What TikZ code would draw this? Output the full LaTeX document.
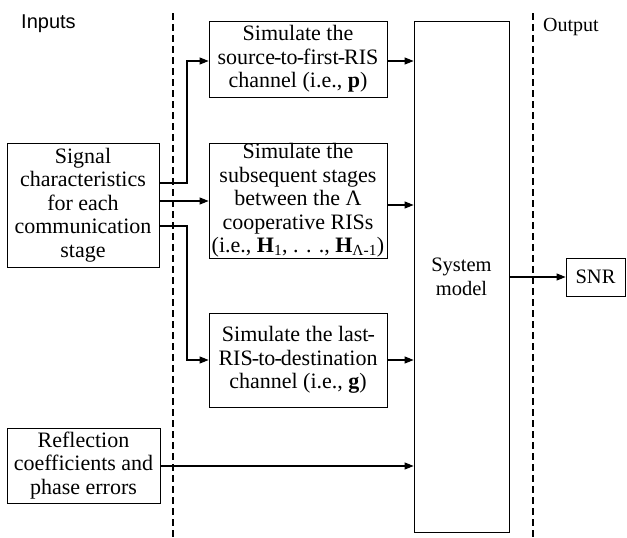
\documentclass[tikz,border=0pt]{standalone}
\usepackage{fontspec}
\setmainfont{Liberation Serif}
\newfontfamily\labelsans{Liberation Sans}
\usetikzlibrary{arrows.meta}

% tight hyphen used in the compound channel names
\newcommand{\hy}{\kern-0.9pt-\kern-0.9pt}

\begin{document}
\begin{tikzpicture}[x=1pt,y=-1pt,
  blockbox/.style={draw,line width=0.8pt,inner sep=0pt,align=center,
    font=\fontsize{22}{23.5}\selectfont},
  smallbox/.style={blockbox,font=\fontsize{20.5}{24}\selectfont},
  flow/.style={line width=1.1pt,-{Triangle[length=9pt,width=7pt]}},
  divider/.style={line width=1.8pt,dash pattern=on 7pt off 4pt}]

\useasboundingbox (0,0) rectangle (627,538);

% stage separators
\coordinate (d1top) at (173,13);
\coordinate (d1bot) at (173,538);
\coordinate (d2top) at (533,13);
\coordinate (d2bot) at (533,538);
\draw[divider] (d1top) -- (d1bot);
\draw[divider] (d2top) -- (d2bot);

% column titles
\node[anchor=base west,inner sep=0pt,font=\labelsans\fontsize{20}{22}\selectfont] (inputs) at (21,28) {Inputs};
\node[anchor=base west,inner sep=0pt,font=\fontsize{20}{23}\selectfont] (output) at (543,31) {Output};

% blocks
\node[blockbox,minimum width=178pt,minimum height=76pt] (b1) at (298,59)
  {Simulate the\\source\hy to\hy first\hy RIS\\channel (i.e., \textbf{p})};
\node[blockbox,minimum width=178pt,minimum height=115pt] (b2) at (298,200.5)
  {Simulate the\\subsequent stages\\between the Λ\\cooperative RISs\\(i.e., \textbf{H}\textsubscript{1}, . . ., \textbf{H}\textsubscript{Λ-1})};
\node[blockbox,minimum width=178pt,minimum height=94pt] (b3) at (298,360)
  {Simulate the last\hy\\RIS\hy to\hy destination\\channel (i.e., \textbf{g})};
\node[blockbox,minimum width=152pt,minimum height=124pt] (sig) at (83,205)
  {Signal\\characteristics\\for each\\communication\\stage};
\node[blockbox,minimum width=153pt,minimum height=75pt] (refl) at (83.5,465.5)
  {Reflection\\coefficients and\\phase errors};
\node[smallbox,minimum width=95pt,minimum height=511pt] (sys) at (461.5,276.5)
  {System\\model};
\node[smallbox,minimum width=59pt,minimum height=38pt] (snr) at (595.5,277)
  {SNR};

% branch points of the input bus
\coordinate (up1) at (187,183);
\coordinate (up2) at (187,61);
\coordinate (dn1) at (187,226);
\coordinate (dn2) at (187,360);

% signal characteristics to the three channel blocks
\draw[flow] (sig.east |- up1) -- (up1) -- (up2) -- (b1.west |- up2);
\draw[flow] (sig.east |- 0,201) -- (b2.west |- 0,201);
\draw[flow] (sig.east |- dn1) -- (dn1) -- (dn2) -- (b3.west |- dn2);

% channel blocks into the system model
\draw[flow] (b1.east |- up2) -- (sys.west |- up2);
\draw[flow] (b2.east |- 0,205) -- (sys.west |- 0,205);
\draw[flow] (b3.east |- dn2) -- (sys.west |- dn2);
\draw[flow] (refl.east |- 0,466) -- (sys.west |- 0,466);

% system model to the output
\draw[flow] (sys.east |- snr.west) -- (snr.west);

\end{tikzpicture}
\end{document}
